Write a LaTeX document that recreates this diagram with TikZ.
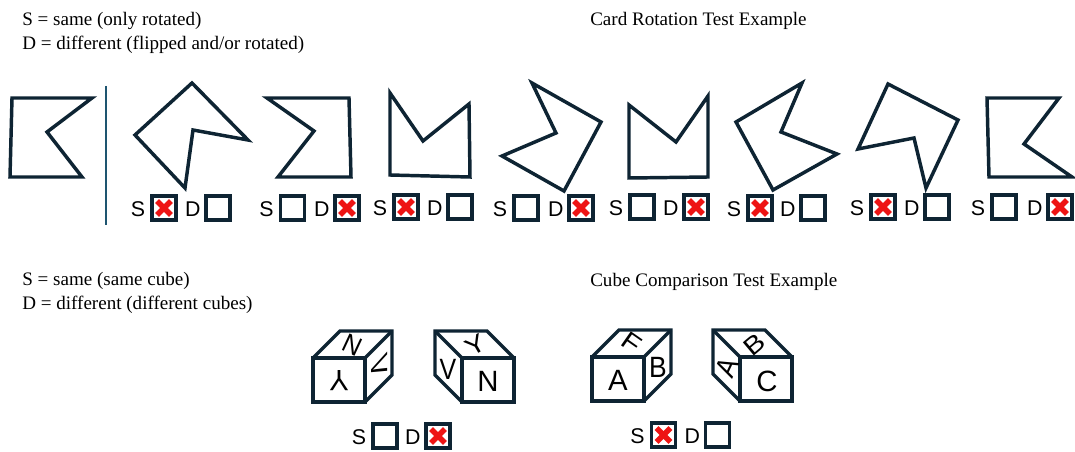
\documentclass[tikz,border=0pt]{standalone}
\usepackage{fontspec}
\setmainfont{Liberation Serif}
\newfontfamily\arialfont{Liberation Sans}
\definecolor{navy}{HTML}{0E2433}
\definecolor{vline}{HTML}{1E5570}
\definecolor{xred}{HTML}{EE1414}
\tikzset{
  card/.style={draw=navy, line width=2.6pt, line join=miter},
  cubeline/.style={draw=navy, line width=2.6pt, line join=miter},
  cbox/.style={draw=navy, line width=2.3pt, minimum size=18pt, inner sep=0pt, fill=white},
  checked/.style={path picture={
     \draw[xred, line width=4pt] ([shift={(-5.2pt,-5.2pt)}]path picture bounding box.center) -- ([shift={(5.2pt,5.2pt)}]path picture bounding box.center);
     \draw[xred, line width=4pt] ([shift={(-5.2pt,5.2pt)}]path picture bounding box.center) -- ([shift={(5.2pt,-5.2pt)}]path picture bounding box.center);}},
  blank/.style={},
  sdlabel/.style={font=\arialfont\fontsize{16}{18}\selectfont, inner sep=0pt, text=black},
  title/.style={font=\fontsize{14.3}{18}\selectfont, inner sep=0pt, anchor=base west, text=black},
  cubeletter/.style={font=\arialfont\fontsize{22}{24}\selectfont, inner sep=0pt, text=black},
}
\newcommand\sdpair[6]{%
  \node[cbox,#5] (#1s) at (#2,#4) {};
  \node[cbox,#6] (#1d) at (#3,#4) {};
  \node[sdlabel] (#1sl) at ([shift={(-19.5pt,-0.5pt)}]#1s.center) {S};
  \node[sdlabel] (#1dl) at ([shift={(-18.8pt,-0.5pt)}]#1d.center) {D};
}
% cube: #1 name, #2 x front-left, #3 y front-top, #4 depth dx (+27 right, -27 left)
\newcommand\cube[4]{%
  \coordinate (#1tl) at (#2,#3);
  \coordinate (#1tr) at ($(#1tl)+(52,0)$);
  \coordinate (#1bl) at ($(#1tl)+(0,-44)$);
  \coordinate (#1br) at ($(#1tl)+(52,-44)$);
  \draw[cubeline, fill=white] (#1tl) rectangle (#1br);
  \ifdim #4pt>0pt
    \draw[cubeline] (#1tl) -- ++(#4,27) -- ++(52,0) -- ++(0,-44) -- (#1br);
    \draw[cubeline] (#1tr) -- ++(#4,27);
  \else
    \draw[cubeline] (#1tr) -- ++(#4,27) -- ++(-52,0) -- ++(0,-44) -- (#1bl);
    \draw[cubeline] (#1tl) -- ++(#4,27);
  \fi
}
\usetikzlibrary{calc}
\begin{document}
\begin{tikzpicture}[x=0.75pt, y=0.75pt]
\useasboundingbox (0,0) rectangle (1075,-452);

% titles
\node[title] (t1) at (22,-26) {S = same (only rotated)};
\node[title] (t2) at (22,-50) {D = different (flipped and/or rotated)};
\node[title] (t3) at (590,-26) {Card Rotation Test Example};
\node[title] (t4) at (22,-286) {S = same (same cube)};
\node[title] (t5) at (22,-310) {D = different (different cubes)};
\node[title] (t6) at (590,-287) {Cube Comparison Test Example};

% reference card and divider
\draw[card] (12,-98) -- (92,-98) -- (47,-132) -- (82,-177) -- (10,-177) -- cycle;
\draw[vline, line width=1.6pt] (106,-86) -- (106,-225);

% cards
\draw[card] (192,-83) -- (248,-140) -- (193,-130) -- (185,-188) -- (135,-135) -- cycle;
\draw[card] (267,-98) -- (349,-98) -- (351,-177) -- (278,-177) -- (314,-131) -- cycle;
\draw[card] (390,-93) -- (423,-141) -- (469,-104) -- (470,-177) -- (390,-175) -- cycle;
\draw[card] (532,-83) -- (601,-122) -- (564,-191) -- (502,-156) -- (556,-133) -- cycle;
\draw[card] (629,-105) -- (676,-142) -- (708,-96) -- (708,-177) -- (629,-178) -- cycle;
\draw[card] (802,-83) -- (781,-132) -- (837,-154) -- (773,-190) -- (736,-122) -- cycle;
\draw[card] (888,-84) -- (958,-120) -- (926,-188) -- (914,-138) -- (858,-149) -- cycle;
\draw[card] (987,-98) -- (1059,-98) -- (1024,-144) -- (1072,-177) -- (989,-177) -- cycle;

% answer boxes for cards
\sdpair{a1}{164}{218}{-208}{checked}{blank}
\sdpair{a2}{292.5}{347}{-208}{blank}{checked}
\sdpair{a3}{406}{460}{-207}{checked}{blank}
\sdpair{a4}{526}{581}{-208}{blank}{checked}
\sdpair{a5}{642}{696}{-207}{blank}{checked}
\sdpair{a6}{760}{813}{-208}{checked}{blank}
\sdpair{a7}{883}{937}{-207}{checked}{blank}
\sdpair{a8}{1004}{1060}{-207}{blank}{checked}

% cubes
\cube{ca}{313}{-358}{27}
\cube{cb}{462}{-358}{-27}
\cube{cc}{592}{-357}{27}
\cube{cd}{740}{-357}{-27}

% cube letters
\node[cubeletter, rotate=180] (la1) at (339,-381) {Y};
\node[cubeletter, rotate=-25, xscale=0.85, yscale=0.9] (la2) at (352,-345) {N};
\node[cubeletter, yslant=0.6, rotate=-90, yscale=0.8] (la3) at (380,-366) {V};

\node[cubeletter, rotate=30, yscale=0.85] (lb1) at (476,-345) {Y};
\node[cubeletter, xscale=0.85] (lb2) at (448,-369) {V};
\node[cubeletter] (lb3) at (488,-381) {N};

\node[cubeletter] (lc1) at (618,-380) {A};
\node[cubeletter, xscale=0.9] (lc2) at (658,-367) {B};
\node[cubeletter, rotate=-35, yscale=0.85] (lc3) at (632,-343) {F};

\node[cubeletter, rotate=40, yscale=0.85] (ld1) at (754,-345) {B};
\node[cubeletter, rotate=65, xscale=0.9] (ld2) at (727,-367) {A};
\node[cubeletter] (ld3) at (767,-381) {C};

% answer boxes for cubes
\sdpair{b1}{385}{438}{-436}{blank}{checked}
\sdpair{b2}{663.5}{717.5}{-435}{checked}{blank}
\end{tikzpicture}
\end{document}
